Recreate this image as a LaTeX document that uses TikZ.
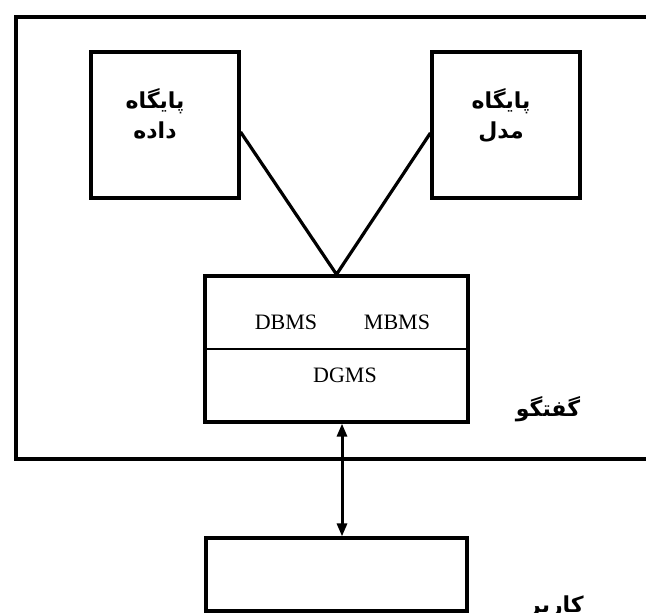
\documentclass[tikz,border=0pt]{standalone}
\usepackage{fontspec}
\setmainfont{Liberation Serif}
\newfontfamily\farsifont[Script=Arabic]{DejaVu Sans}
\TeXXeTstate=1
\usetikzlibrary{arrows.meta}

\tikzset{
  box/.style={draw, line width=3.2pt, inner sep=0pt},
  store/.style={box, minimum width=148pt, minimum height=146pt},
  fa/.style={font=\farsifont\bfseries\fontsize{22}{30}\selectfont, align=center, inner sep=0pt},
  en/.style={font=\fontsize{22}{24}\selectfont, inner sep=0pt}
}

\begin{document}
\begin{tikzpicture}[x=1pt, y=-1pt]
 \useasboundingbox (0,0) rectangle (646,613);

 % outer frame, open to the right
 \coordinate (ftr) at (652,17);
 \coordinate (ftl) at (16,17);
 \coordinate (fbl) at (16,459);
 \coordinate (fbr) at (652,459);
 \draw[line width=4.6pt, line join=miter] (ftr) -- (ftl) -- (fbl) -- (fbr);

 % stores
 \node (dbase) [store] at (165,125) {};
 \node (mbase) [store] at (506,125) {};
 \node (dbtext) [fa] at (155,114) {\beginR پایگاه\endR\\\beginR داده\endR};
 \node (mbtext) [fa] at (501,116) {\beginR پایگاه\endR\\\beginR مدل\endR};

 % dss box
 \node (dss) [box, minimum width=263pt, minimum height=146pt] at (336.5,349) {};
 \draw[line width=2pt] (dss.west) -- (dss.east);
 \node (dbms) [en] at (286,322) {DBMS};
 \node (mbms) [en] at (397,322) {MBMS};
 \node (dgms) [en] at (345,375) {DGMS};
 \node (talk) [fa] at (548,409) {\beginR گفتگو\endR};

 \path [draw, line width=3.2pt] ([yshift=-7pt]dbase.east) -- (dss.north) -- ([yshift=-8pt]mbase.west);

 % user
 \node (user) [box, minimum width=261pt, minimum height=73pt] at (336.5,574.5) {};
 \node (usertext) [fa, anchor=north east] at (584,596) {\beginR کاربر\endR};

 \draw [{Triangle[length=13pt,width=10pt]}-{Triangle[length=13pt,width=10pt]}, line width=3pt]
   ([xshift=5.5pt]dss.south) -- ([xshift=5.5pt]user.north);
\end{tikzpicture}
\end{document}
